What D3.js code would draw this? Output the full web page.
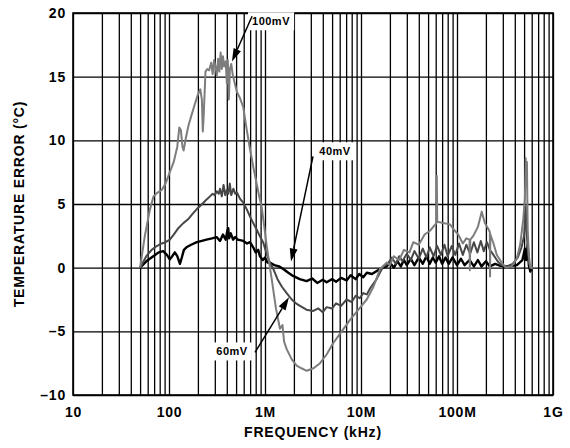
<!DOCTYPE html>
<html>
<head>
<meta charset="utf-8">
<script src="https://cdn.jsdelivr.net/npm/d3@7"></script>
<style>
  body { margin: 0; background: #fff; }
  text { font-family: "Liberation Sans", Arial, sans-serif; font-weight: bold; }
</style>
</head>
<body>
<script>
// frequency in kHz, error in deg C
const xTicks = [10, 100, 1e3, 1e4, 1e5, 1e6];
const xTickLabels = ["10", "100", "1M", "10M", "100M", "1G"];
const yTicks = [-10, -5, 0, 5, 10, 15, 20];
const yTickLabels = ["\u201310", "\u20135", "0", "5", "10", "15", "20"];

const freq100 = [50, 56, 63, 69, 76, 84, 92, 102, 112, 122, 128, 133, 138, 142, 150, 160, 172, 185, 200, 212,
  220, 225, 230, 240, 250, 262, 275, 285, 295, 305, 315, 325, 335, 345, 355, 365, 375, 390, 400, 410,
  420, 431, 445, 460, 480, 510, 550, 594, 640, 698, 760, 819, 870, 922, 980, 1042, 1100, 1175, 1300, 1432,
  1520, 1580, 1682, 1900, 2138, 2400, 2716, 3200, 3744, 4400, 5150, 6300, 7680, 9400, 11470, 13500, 15780, 18600, 20000, 22000,
  25000, 28000, 32000, 35100, 40000, 46000, 52300, 58000, 61000, 61600, 62200, 72000, 84500, 95000, 103000, 115000, 125000, 135000, 136000, 137500,
  148000, 165000, 181000, 195000, 210000, 220000, 221000, 222500, 240000, 260000, 281000, 305000, 330000, 370000, 419000, 455000, 490000, 510000, 520000, 527000,
  535000, 545000, 560000, 580000, 597000, 605000];
const err100 = [0, 2.5, 4.5, 5.6, 5.9, 6.1, 6.6, 7.5, 8.3, 9.5, 11.0, 10.8, 9.5, 9.2, 10.2, 11.2, 12.0, 12.8, 13.6, 14.0,
  13.2, 10.7, 12.0, 15.4, 15.6, 15.5, 16.1, 15.2, 16.3, 15.8, 15.1, 16.4, 15.4, 16.9, 15.6, 16.6, 15.8, 16.2, 14.5, 16.3,
  13.2, 15.6, 16.0, 15.2, 14.6, 13.8, 13.3, 12.6, 11.0, 9.3, 7.8, 6.6, 5.6, 4.8, 3.3, 1.7, 0.5, -0.9, -3.2, -4.8,
  -4.5, -5.8, -6.4, -7.2, -7.7, -7.9, -8.1, -7.9, -7.5, -6.8, -5.9, -5.0, -4.1, -3.3, -2.5, -1.5, -0.1, 0.4, 0.2, 0.9,
  0.6, 1.4, 1.2, 2.0, 1.8, 2.6, 2.9, 3.3, 3.5, 7.2, 3.6, 3.5, 3.4, 2.9, 2.6, 1.9, 2.3, 2.2, -0.2, 2.2,
  2.5, 3.2, 4.4, 3.5, 3.1, 2.8, -0.7, 2.6, 1.9, 1.0, 0.6, 0.2, 0.0, 0.1, 0.7, 1.8, 3.8, 5.5, 8.6, 6.5,
  8.3, 3.0, 1.0, 0.0, 0.1, -0.1];

const freq60 = [50, 58, 66, 74.5, 84, 92, 102, 112, 125, 141, 158, 175, 195, 215, 235, 250, 267, 285, 300, 315,
  330, 340, 355, 370, 385, 400, 415, 430, 445, 468, 490, 510, 550, 594, 644, 700, 753, 819, 880, 955,
  1050, 1120, 1220, 1350, 1500, 1682, 1900, 2100, 2317, 2700, 3184, 3600, 4000, 4385, 5000, 5500, 6200, 7080, 8000, 8800,
  9700, 10560, 11500, 12500, 14550, 17070, 19000, 21000, 23000, 25000, 27000, 30000, 33000, 36000, 40000, 44000, 48000, 52000, 57000, 62000,
  68000, 74000, 80000, 88000, 96000, 105000, 115000, 125000, 137000, 150000, 163000, 177000, 190000, 205000, 220000, 240000, 265000, 290000, 330000, 380000,
  430000, 470000, 500000, 520000, 530000, 545000, 565000, 590000];
const err60 = [0, 0.9, 1.4, 1.7, 1.9, 2.0, 2.2, 2.6, 3.1, 3.5, 3.8, 4.2, 4.6, 4.9, 5.2, 5.4, 5.6, 5.8, 5.7, 6.0,
  5.8, 6.2, 5.6, 6.5, 5.7, 6.1, 5.8, 6.6, 5.7, 6.2, 5.8, 5.9, 5.4, 5.1, 4.6, 4.0, 3.5, 3.0, 2.5, 2.0,
  1.0, 0.4, -0.1, -0.9, -1.5, -2.0, -2.5, -2.8, -3.0, -3.3, -3.4, -3.2, -3.5, -3.1, -3.2, -2.8, -3.0, -2.5, -2.7, -2.2,
  -2.4, -2.0, -2.1, -1.6, -0.9, 0.1, 0.3, 0.8, 0.3, 0.9, 0.5, 1.1, 0.6, 1.3, 0.7, 1.5, 0.8, 1.6, 0.9, 1.7,
  1.0, 1.8, 0.9, 1.7, 1.0, 1.9, 1.0, 1.8, 1.1, 2.0, 1.2, 2.1, 1.3, 2.0, 1.4, 1.0, 0.5, 0.2, 0.1, 0.3,
  0.8, 1.6, 2.5, 4.8, 3.0, 1.5, 0.3, 0.0];

const freq40 = [50, 58, 68.6, 78, 87, 95, 102, 108, 115, 122, 130, 136, 143, 152, 170, 195, 220, 246, 280, 314,
  340, 365, 390, 405, 414, 422, 440, 465, 490, 520, 594, 650, 698, 753, 800, 850, 885, 950, 1000, 1060,
  1120, 1250, 1400, 1550, 1750, 1960, 2300, 2716, 3100, 3500, 4000, 4385, 5000, 5500, 6200, 7080, 7800, 8800, 9600, 10560,
  11500, 13000, 15780, 18500, 20000, 22000, 24000, 26000, 28000, 30000, 33000, 36000, 40000, 44000, 48000, 52000, 56000, 60000, 65000, 70000,
  76000, 82000, 90000, 100000, 110000, 120000, 135000, 150000, 165000, 180000, 200000, 220000, 250000, 280000, 350000, 420000, 480000, 510000, 525000, 545000,
  560000, 580000, 600000];
const err40 = [0, 0.5, 0.9, 1.2, 1.3, 1.0, 0.65, 0.9, 1.2, 0.9, 0.3, 0.8, 1.4, 1.6, 1.8, 2.0, 2.1, 2.2, 2.3, 2.4,
  2.1, 2.6, 2.2, 2.9, 3.1, 2.3, 2.7, 2.2, 2.4, 2.2, 2.1, 1.9, 2.0, 1.6, 1.2, 1.4, 0.9, 0.6, 0.8, 0.4,
  0.4, 0.2, 0.1, -0.1, -0.4, -0.65, -0.9, -1.05, -0.85, -1.2, -0.95, -1.15, -0.9, -1.1, -0.8, -1.0, -0.6, -0.9, -0.5, -0.75,
  -0.4, -0.5, -0.1, 0.1, 0.4, 0.0, 0.5, 0.1, 0.6, 0.2, 0.7, 0.2, 0.8, 0.3, 0.9, 0.3, 0.8, 0.4, 0.9, 0.3,
  0.8, 0.3, 0.8, 0.2, 0.7, 0.2, 0.6, 0.1, 0.6, 0.1, 0.5, 0.1, 0.3, 0.15, 0.1, 0.2, 0.6, 1.5, 0.6, 1.8,
  0.2, -0.3, 0.0];

const seriesNames = ["40mV", "60mV", "100mV"];
const seriesColors = ["#000000", "#474747", "#7d7d7d"];

// annotation: label centre, arrow tail and arrow tip, all in data units
const noteText = ["100mV", "40mV", "60mV"];
const noteLabelF = [1155, 5360, 453];
const noteLabelV = [19.35, 9.14, -6.58];
const noteTailF = [733, 3162, 787];
const noteTailV = [19.74, 8.74, -6.65];
const noteTipF = [453, 1866, 1778];
const noteTipV = [16.2, 0.49, -2.33];

const W = 570, H = 448;
const margin = { top: 13, right: 17, bottom: 53, left: 73 };
const w = W - margin.left - margin.right;
const h = H - margin.top - margin.bottom;

const svg = d3.select("body").append("svg")
  .attr("width", W)
  .attr("height", H);

const g = svg.append("g")
  .attr("transform", `translate(${margin.left},${margin.top})`);

const x = d3.scaleLog().domain([10, 1e6]).range([0, w]);
const y = d3.scaleLinear().domain([-10, 20]).range([h, 0]);

// grid: every 1..9 of each decade
const gridX = [];
for (let d = 10; d < 1e6; d *= 10) {
  for (let k = 1; k <= 9; k++) gridX.push(d * k);
}
gridX.push(1e6);

const xAxis = d3.axisBottom(x)
  .tickValues(gridX)
  .tickSize(-h)
  .tickPadding(12)
  .tickFormat(d => {
    const i = xTicks.findIndex(t => Math.abs(t - d) < 1e-6 * t);
    return i >= 0 ? xTickLabels[i] : "";
  });

const yAxis = d3.axisLeft(y)
  .tickValues(yTicks)
  .tickSize(-w)
  .tickPadding(7)
  .tickFormat((d, i) => yTickLabels[i]);

const gx = g.append("g").attr("transform", `translate(0,${h})`).call(xAxis);
const gy = g.append("g").call(yAxis);

[gx, gy].forEach(a => {
  a.select(".domain").remove();
  a.selectAll(".tick line").attr("stroke", "#000").attr("stroke-width", 1.3);
  a.selectAll(".tick text")
    .attr("fill", "#000")
    .style("font-size", "14px")
    .style("letter-spacing", "0.8px");
});

g.append("rect")
  .attr("width", w).attr("height", h)
  .attr("fill", "none")
  .attr("stroke", "#000")
  .attr("stroke-width", 1.6);

// curves
const seriesF = [freq40, freq60, freq100];
const seriesV = [err40, err60, err100];
const line = d3.line().x(d => x(d[0])).y(d => y(d[1]));

[0, 1, 2].forEach(s => {
  const pts = seriesF[s].map((f, i) => [f, seriesV[s][i]]);
  g.append("path")
    .datum(pts)
    .attr("fill", "none")
    .attr("stroke", seriesColors[s])
    .attr("stroke-width", s === 0 ? 2.4 : 2)
    .attr("stroke-linejoin", "round")
    .attr("d", line);
});

// annotations
noteText.forEach((t, i) => {
  const lx = x(noteLabelF[i]), ly = y(noteLabelV[i]);
  const tx = x(noteTailF[i]), ty = y(noteTailV[i]);
  const px = x(noteTipF[i]), py = y(noteTipV[i]);

  const box = g.append("rect").attr("fill", "#fff");
  const label = g.append("text")
    .attr("x", lx).attr("y", ly)
    .attr("text-anchor", "middle")
    .attr("dominant-baseline", "central")
    .style("font-size", "11px")
    .style("letter-spacing", "0.5px")
    .text(t);
  const bb = label.node().getBBox();
  box.attr("x", bb.x - 4).attr("y", bb.y - 3)
    .attr("width", bb.width + 8).attr("height", bb.height + 6);

  const ang = Math.atan2(py - ty, px - tx);
  const headLen = 13, headW = 4;
  const bx = px - headLen * Math.cos(ang), by = py - headLen * Math.sin(ang);
  g.append("line")
    .attr("x1", tx).attr("y1", ty).attr("x2", bx).attr("y2", by)
    .attr("stroke", "#000").attr("stroke-width", 1.5);
  g.append("path")
    .attr("d", `M${px},${py}L${bx + headW * Math.sin(ang)},${by - headW * Math.cos(ang)}L${bx - headW * Math.sin(ang)},${by + headW * Math.cos(ang)}Z`)
    .attr("fill", "#000");
});

svg.append("text")
  .attr("x", margin.left + w / 2)
  .attr("y", 437)
  .attr("text-anchor", "middle")
  .style("font-size", "14px")
  .style("letter-spacing", "0.8px")
  .text("FREQUENCY (kHz)");

svg.append("text")
  .attr("transform", `translate(24,${margin.top + h / 2}) rotate(-90)`)
  .attr("text-anchor", "middle")
  .style("font-size", "14px")
  .style("letter-spacing", "0.8px")
  .text("TEMPERATURE ERROR (\u00b0C)");
</script>
</body>
</html>
